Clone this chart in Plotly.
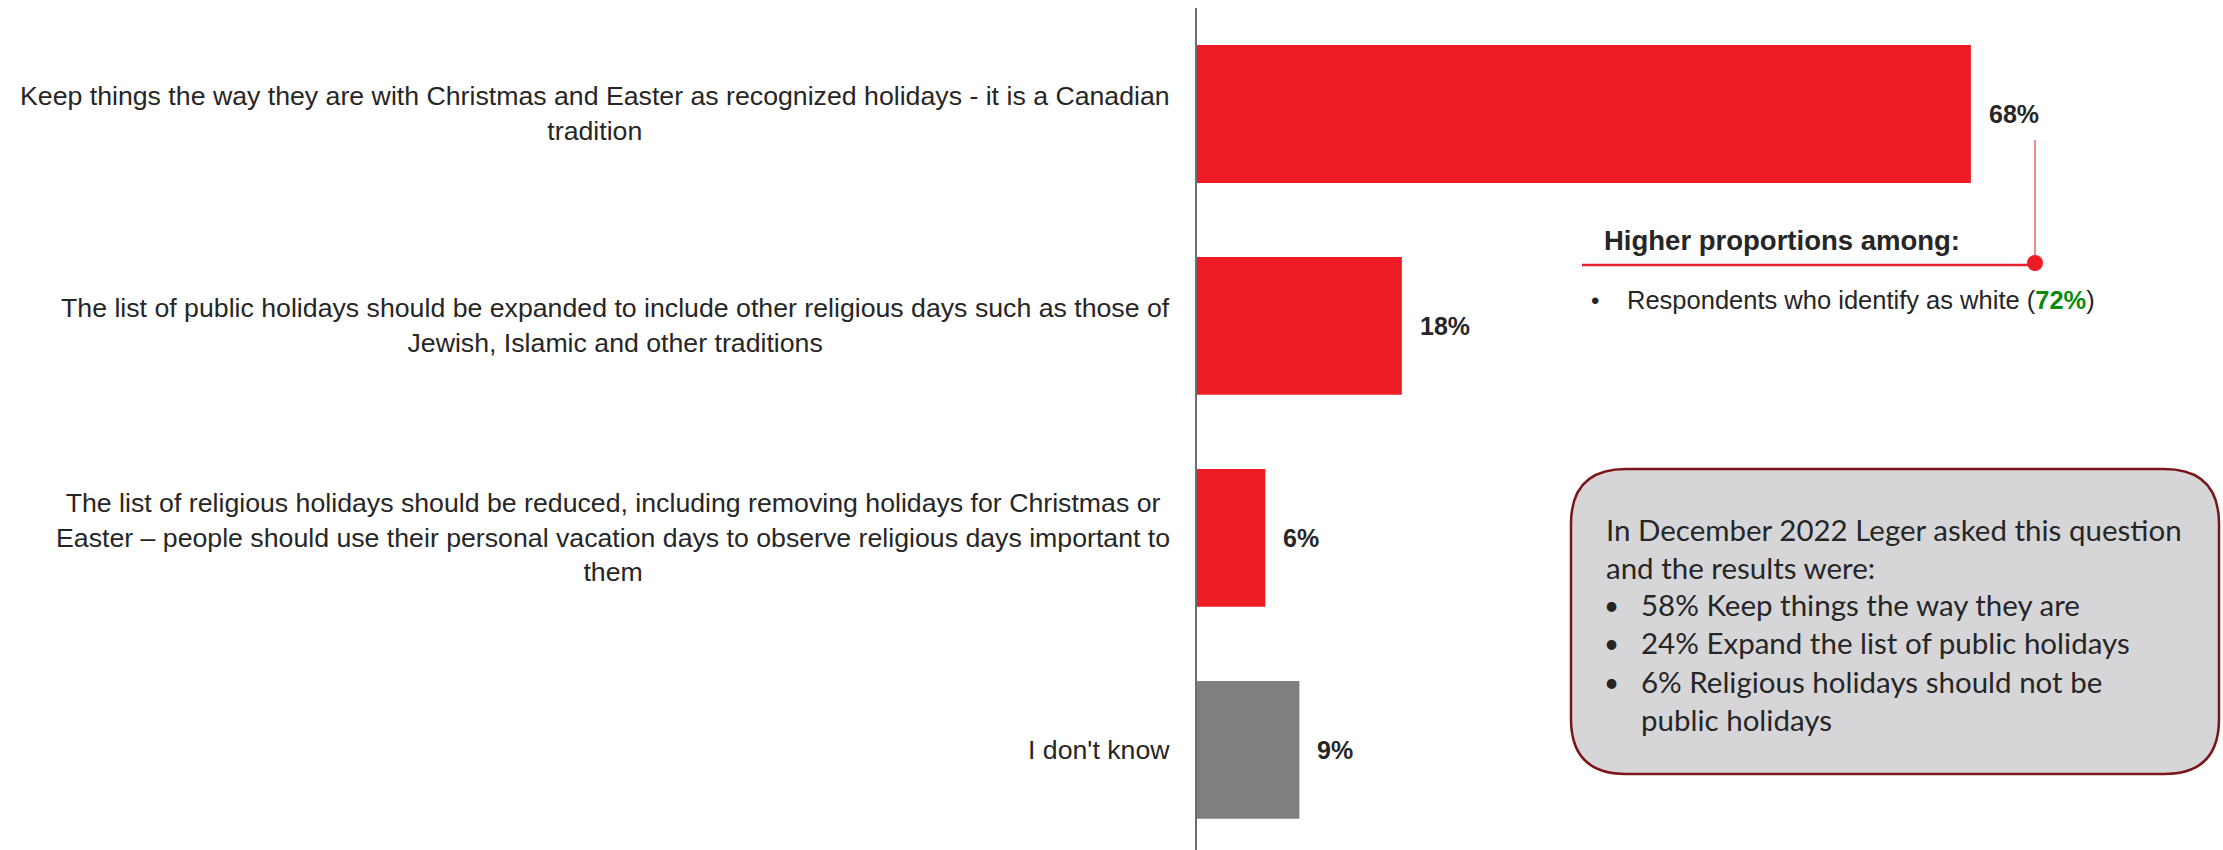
import plotly.graph_objects as go

# ---- data ----
categories = [
    "Keep things the way they are with Christmas and Easter as recognized holidays - it is a Canadian<br>tradition",
    "The list of public holidays should be expanded to include other religious days such as those of<br>Jewish, Islamic and other traditions",
    "The list of religious holidays should be reduced, including removing holidays for Christmas or<br>Easter \u2013 people should use their personal vacation days to observe religious days important to<br>them",
    "I don't know",
]
values = [68, 18, 6, 9]
bar_colors = ["#ED1C24", "#ED1C24", "#ED1C24", "#7F7F7F"]

callout_title = "Higher proportions among:"
callout_group = "Respondents who identify as white"
callout_value = 72

prior_intro = "In December 2022 Leger asked this question<br>and the results were:"
prior_items = [
    "58% Keep things the way they are",
    "24% Expand the list of public holidays",
    "6% Religious holidays should not be<br>public holidays",
]

# ---- canvas helpers (pixel -> paper) ----
W, H = 2223, 850


def px(x):
    return x / W


def py(y):
    return 1 - y / H


TEXT = "#262626"
FONT = "Liberation Sans, Arial, sans-serif"
BOX_FONT = "Lato, Carlito, Calibri, sans-serif"

fig = go.Figure()
fig.add_trace(
    go.Bar(
        x=values,
        y=categories,
        orientation="h",
        marker=dict(color=bar_colors, line=dict(width=0)),
        width=0.65,
        hoverinfo="skip",
    )
)

annotations = []
# category labels, centred multi-line blocks right-aligned against the axis
for cat in categories:
    annotations.append(
        dict(
            x=0, y=cat, xref="x", yref="y", text=cat, showarrow=False,
            xanchor="right", yanchor="middle", align="center", xshift=-25,
            font=dict(family=FONT, size=26.7, color=TEXT),
        )
    )
# value labels
for cat, v in zip(categories, values):
    annotations.append(
        dict(
            x=v, y=cat, xref="x", yref="y", text=f"<b>{v}%</b>", showarrow=False,
            xanchor="left", yanchor="middle", xshift=16,
            font=dict(family=FONT, size=25, color=TEXT),
        )
    )

# callout for the first option
annotations.append(
    dict(
        x=px(1602), y=py(240), xref="paper", yref="paper",
        text=f"<b>{callout_title}</b>", showarrow=False,
        xanchor="left", yanchor="middle",
        font=dict(family=FONT, size=27.5, color=TEXT),
    )
)
annotations.append(
    dict(
        x=px(1589), y=py(300), xref="paper", yref="paper", text="\u2022", showarrow=False,
        xanchor="left", yanchor="middle",
        font=dict(family=FONT, size=24, color=TEXT),
    )
)
annotations.append(
    dict(
        x=px(1625), y=py(300), xref="paper", yref="paper",
        text=f"{callout_group} (<span style='color:#0A8A0A'><b>{callout_value}%</b></span>)",
        showarrow=False, xanchor="left", yanchor="middle",
        font=dict(family=FONT, size=25.5, color=TEXT),
    )
)

# prior-wave box text
annotations.append(
    dict(
        x=px(1604), y=py(510), xref="paper", yref="paper", text=prior_intro,
        showarrow=False, xanchor="left", yanchor="top", align="left",
        font=dict(family=BOX_FONT, size=29.5, color=TEXT),
    )
)
item_y = [605, 643, 682]
for yy, item in zip(item_y, prior_items):
    annotations.append(
        dict(
            x=px(1602), y=py(yy), xref="paper", yref="paper", text="\u2022",
            showarrow=False, xanchor="left", yanchor="middle",
            font=dict(family=BOX_FONT, size=26, color=TEXT),
        )
    )
    annotations.append(
        dict(
            x=px(1639), y=py(yy - 20), xref="paper", yref="paper", text=item,
            showarrow=False, xanchor="left", yanchor="top", align="left",
            font=dict(family=BOX_FONT, size=29.5, color=TEXT),
        )
    )

# rounded box path
bx0, bx1, by0, by1, r = 1571, 2219, 469, 774, 55
path = (
    f"M {px(bx0 + r)},{py(by0)} L {px(bx1 - r)},{py(by0)} "
    f"Q {px(bx1)},{py(by0)} {px(bx1)},{py(by0 + r)} "
    f"L {px(bx1)},{py(by1 - r)} Q {px(bx1)},{py(by1)} {px(bx1 - r)},{py(by1)} "
    f"L {px(bx0 + r)},{py(by1)} Q {px(bx0)},{py(by1)} {px(bx0)},{py(by1 - r)} "
    f"L {px(bx0)},{py(by0 + r)} Q {px(bx0)},{py(by0)} {px(bx0 + r)},{py(by0)} Z"
)

shapes = [
    dict(
        type="path", path=path, xref="paper", yref="paper",
        fillcolor="#D6D6D9", line=dict(color="#7A1519", width=2.5), layer="below",
    ),
    # connector from the top bar label to the callout
    dict(
        type="line", xref="paper", yref="paper",
        x0=px(2035), x1=px(2035), y0=py(140), y1=py(263),
        line=dict(color="#F0646E", width=1.5),
    ),
    dict(
        type="line", xref="paper", yref="paper",
        x0=px(1582), x1=px(2035), y0=py(265), y1=py(265),
        line=dict(color="#E8202A", width=2.5),
    ),
    dict(
        type="circle", xref="paper", yref="paper",
        x0=px(2027), x1=px(2043), y0=py(255), y1=py(271),
        fillcolor="#ED1C24", line=dict(width=0),
    ),
]

fig.update_layout(
    width=W,
    height=H,
    margin=dict(l=0, r=0, t=0, b=0),
    paper_bgcolor="white",
    plot_bgcolor="white",
    showlegend=False,
    xaxis=dict(
        domain=[px(1197), 1], range=[0, 90.15], visible=False, fixedrange=True,
    ),
    yaxis=dict(
        domain=[0, py(8)], range=[3.472, -0.5], categoryorder="array",
        categoryarray=categories, showticklabels=False, showgrid=False,
        zeroline=False, showline=True, linecolor="#6E6E6E", linewidth=1.5,
        ticks="", fixedrange=True,
    ),
    annotations=annotations,
    shapes=shapes,
)

fig.write_html("out.html")
